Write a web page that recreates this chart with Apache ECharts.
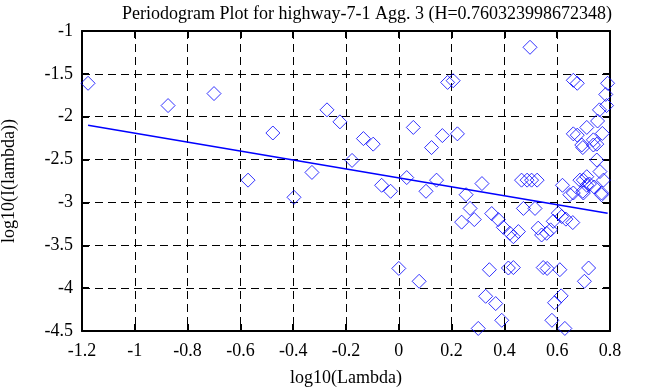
<!DOCTYPE html>
<html>
<head>
<meta charset="utf-8">
<script src="https://cdn.jsdelivr.net/npm/echarts@6/dist/echarts.min.js"></script>
<style>html,body{margin:0;padding:0;background:#fff}#c{width:658px;height:387px}</style>
</head>
<body>
<div id="c"></div>
<script>
var titleText = 'Periodogram Plot for highway-7-1 Agg. 3 (H=0.760323998672348)';
var xName = 'log10(Lambda)';
var yName = 'log10(I(lambda))';
var xTicks = [-1.2, -1, -0.8, -0.6, -0.4, -0.2, 0, 0.2, 0.4, 0.6, 0.8];
var yTicks = [-4.5, -4, -3.5, -3, -2.5, -2, -1.5, -1];

var pointX = [-1.177,-0.874,-0.70,-0.571,-0.477,-0.397,-0.329,-0.272,-0.223,-0.177,
  -0.134,-0.097,-0.065,-0.031,0.0,0.03,0.055,0.077,0.103,0.124,
  0.143,0.165,0.185,0.206,0.222,0.238,0.255,0.27,0.286,0.301,
  0.315,0.329,0.343,0.352,0.367,0.377,0.39,0.396,0.415,0.421,
  0.434,0.434,0.453,0.465,0.472,0.486,0.497,0.503,0.516,0.524,
  0.528,0.541,0.547,0.56,0.562,0.575,0.58,0.585,0.59,0.604,
  0.61,0.615,0.617,0.62,0.629,0.633,0.648,0.659,0.661,0.661,
  0.661,0.676,0.676,0.686,0.693,0.697,0.697,0.699,0.699,0.703,
  0.712,0.712,0.712,0.719,0.722,0.737,0.737,0.74,0.75,0.75,
  0.753,0.76,0.762,0.768,0.768,0.771,0.775,0.784,0.787,0.791];
var pointY = [-1.61,-1.87,-1.73,-2.74,-2.19,-2.94,-2.65,-1.92,-2.06,-2.51,
  -2.255,-2.32,-2.80,-2.87,-3.77,-2.71,-2.125,-3.92,-2.87,-2.36,
  -2.74,-2.22,-1.60,-1.58,-2.20,-3.23,-2.91,-3.07,-3.20,-4.47,
  -2.78,-4.095,-3.785,-3.13,-4.18,-3.20,-4.375,-3.29,-3.765,-3.36,
  -3.40,-3.76,-3.34,-2.74,-3.07,-2.74,-1.19,-2.74,-3.07,-2.74,
  -3.30,-3.38,-3.76,-3.36,-3.77,-3.32,-4.375,-3.22,-4.17,-3.125,
  -3.785,-4.09,-3.165,-2.80,-4.47,-3.195,-2.91,-3.235,-1.575,-2.20,
  -2.89,-1.61,-2.215,-2.74,-2.33,-2.36,-2.87,-2.74,-2.89,-3.92,
  -2.125,-2.70,-2.80,-3.765,-2.785,-2.27,-2.33,-2.82,-2.32,-2.505,
  -2.05,-1.92,-2.64,-2.91,-2.89,-2.195,-2.74,-1.74,-1.87,-1.61];

var fitX = [-1.177, 0.791];
var fitY = [-2.10, -3.125];

var blue = '#0000ff';
var serif = 'Liberation Serif, Times New Roman, serif';

var scatterData = pointX.map(function (x, i) { return [x, pointY[i]]; });
var lineData = fitX.map(function (x, i) { return [x, fitY[i]]; });

var dash = { color: '#000', width: 1, type: [8, 5] };
var axisBase = {
  axisLine: { show: true, onZero: false, lineStyle: { color: '#000', width: 2 } },
  axisTick: { show: true, inside: true, length: 7, lineStyle: { color: '#000', width: 2 } }
};

var chart = echarts.init(document.getElementById('c'), null, { renderer: 'canvas' });
chart.setOption({
  animation: false,
  backgroundColor: '#fff',
  title: {
    text: titleText, left: 117, top: 0,
    textStyle: { fontFamily: serif, fontSize: 18, fontWeight: 'normal', color: '#000' }
  },
  grid: { left: 82, right: 48, top: 31, bottom: 56, containLabel: false, outerBoundsMode: 'none' },
  xAxis: [
    Object.assign({
      type: 'value', min: -1.2, max: 0.8, interval: 0.2, position: 'bottom',
      name: xName, nameLocation: 'middle', nameGap: 38,
      nameTextStyle: { fontFamily: serif, fontSize: 18, color: '#000' },
      axisLabel: {
        fontFamily: serif, fontSize: 18, color: '#000', margin: 11,
        formatter: function (v) {
          var r = Math.round(v * 10) / 10;
          return xTicks.indexOf(r) >= 0 ? String(r) : '';
        }
      },
      splitLine: { show: true, lineStyle: dash }
    }, axisBase),
    Object.assign({
      type: 'value', min: -1.2, max: 0.8, interval: 0.2, position: 'top',
      axisLabel: { show: false }, splitLine: { show: false }
    }, axisBase)
  ],
  yAxis: [
    Object.assign({
      type: 'value', min: -4.5, max: -1, interval: 0.5, position: 'left',
      name: yName, nameLocation: 'middle', nameGap: 64, nameRotate: 90,
      nameTextStyle: { fontFamily: serif, fontSize: 18, color: '#000' },
      axisLabel: {
        fontFamily: serif, fontSize: 18, color: '#000', margin: 9,
        formatter: function (v) {
          var r = Math.round(v * 10) / 10;
          return yTicks.indexOf(r) >= 0 ? String(r) : '';
        }
      },
      splitLine: { show: true, lineStyle: dash }
    }, axisBase),
    Object.assign({
      type: 'value', min: -4.5, max: -1, interval: 0.5, position: 'right',
      axisLabel: { show: false }, splitLine: { show: false }
    }, axisBase)
  ],
  series: [
    {
      type: 'scatter', xAxisIndex: 0, yAxisIndex: 0,
      data: scatterData, symbol: 'diamond', symbolSize: 14,
      itemStyle: { color: 'rgba(0,0,0,0)', borderColor: blue, borderWidth: 1 },
      z: 3
    },
    {
      type: 'line', xAxisIndex: 0, yAxisIndex: 0,
      data: lineData, symbol: 'none',
      lineStyle: { color: blue, width: 1.5 },
      z: 4
    }
  ]
});
</script>
</body>
</html>
